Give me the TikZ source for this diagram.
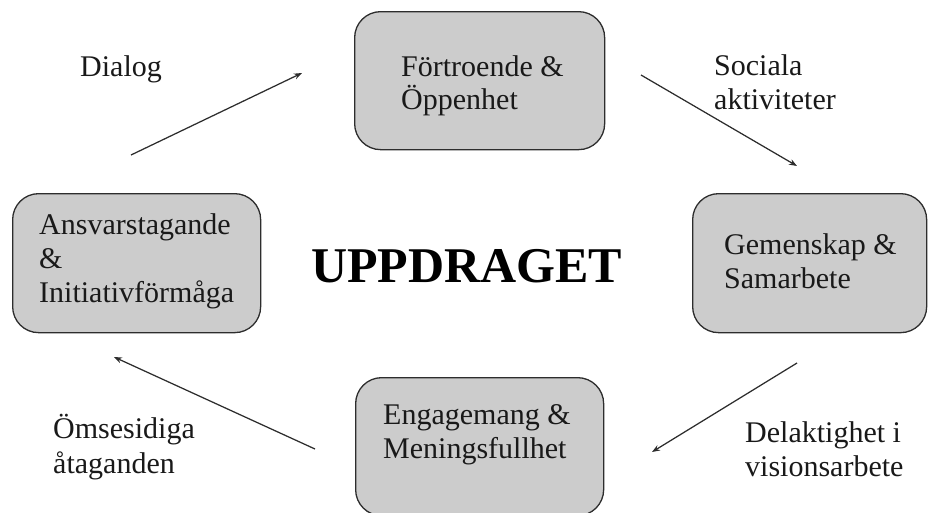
\documentclass[tikz,border=0pt]{standalone}
\usepackage{fontspec}
\setmainfont{Liberation Serif}
\usetikzlibrary{arrows.meta}
\definecolor{boxgray}{RGB}{204,204,204}
\definecolor{linegray}{RGB}{45,45,45}
\definecolor{textgray}{RGB}{25,25,25}
\begin{document}
\begin{tikzpicture}[x=1pt,y=-1pt,
  card/.style={draw=linegray, line width=1.3pt, fill=boxgray, rounded corners=26pt, anchor=north west, inner sep=0pt},
  lbl/.style={anchor=base west, inner sep=0pt, font=\fontsize{30}{34}\selectfont, text=textgray},
  flow/.style={draw=linegray, line width=1.25pt, -{Stealth[length=8pt,width=6pt]}}]
\useasboundingbox (0,0) rectangle (928,512);
% boxes
\node[card, minimum width=250pt, minimum height=138pt] (btop) at (354,11) {};
\node[card, minimum width=248pt, minimum height=139pt] (bleft) at (12,193) {};
\node[card, minimum width=234pt, minimum height=139pt] (bright) at (692,193) {};
\node[card, minimum width=248pt, minimum height=138pt] (bbottom) at (355,377) {};
% box texts
\node[lbl] (t1) at (401,76) {Förtroende \&};
\node[lbl] (t2) at (401,109) {Öppenhet};
\node[lbl] (l1) at (39,234) {Ansvarstagande};
\node[lbl] (l2) at (39,268) {\&};
\node[lbl] (l3) at (39,302) {Initiativförmåga};
\node[lbl] (r1) at (724,254) {Gemenskap \&};
\node[lbl] (r2) at (724,288) {Samarbete};
\node[lbl] (e1) at (383,424) {Engagemang \&};
\node[lbl] (e2) at (383,458) {Meningsfullhet};
% centre title
\node[anchor=base west, inner sep=0pt, font=\fontsize{50}{56}\selectfont\bfseries, text=black] (title) at (311,282) {UPPDRAGET};
% arrow labels
\node[lbl] (dlg) at (80,76) {Dialog};
\node[lbl] (soc1) at (714,75) {Sociala};
\node[lbl] (soc2) at (714,109) {aktiviteter};
\node[lbl] (del1) at (745,442) {Delaktighet i};
\node[lbl] (del2) at (745,476) {visionsarbete};
\node[lbl] (oms1) at (53,438) {Ömsesidiga};
\node[lbl] (oms2) at (53,473) {åtaganden};
% arrow end points
\coordinate (a1s) at (131,155); \coordinate (a1e) at (302,73);
\coordinate (a2s) at (641,75);  \coordinate (a2e) at (797,166);
\coordinate (a3s) at (797,363); \coordinate (a3e) at (652,452);
\coordinate (a4s) at (315,449); \coordinate (a4e) at (114,357);
\draw[flow] (a1s) -- (a1e);
\draw[flow] (a2s) -- (a2e);
\draw[flow] (a3s) -- (a3e);
\draw[flow] (a4s) -- (a4e);
\end{tikzpicture}
\end{document}
